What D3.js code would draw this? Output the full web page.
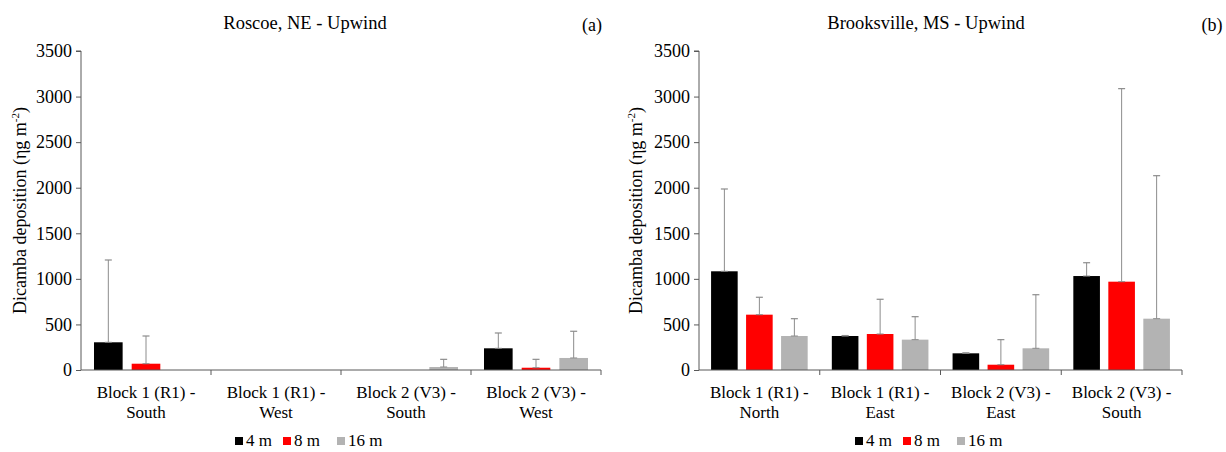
<!DOCTYPE html>
<html>
<head>
<meta charset="utf-8">
<script src="https://cdn.jsdelivr.net/npm/d3@7"></script>
</head>
<body style="margin:0;padding:0;background:#fff">
<svg id="chart" width="1226" height="452" style="display:block"></svg>
<script>
// Sampling heights and series
const seriesNames = ["4 m", "8 m", "16 m"];
const seriesColors = ["#000000", "#ff0000", "#b3b3b3"];
const yTicks = [0, 500, 1000, 1500, 2000, 2500, 3000, 3500];

// (a) Roscoe, NE - Upwind
const roscoeCategories = [
  ["Block 1 (R1) -", "South"],
  ["Block 1 (R1) -", "West"],
  ["Block 2 (V3) -", "South"],
  ["Block 2 (V3) -", "West"]
];
const roscoe4m = [304, 0, 0, 238];
const roscoe8m = [69, 0, 0, 25];
const roscoe16m = [0, 0, 33, 132];
const roscoe4mSD = [903, 0, 0, 168];
const roscoe8mSD = [304, 0, 0, 92];
const roscoe16mSD = [0, 0, 84, 293];

// (b) Brooksville, MS - Upwind
const brooksvilleCategories = [
  ["Block 1 (R1) -", "North"],
  ["Block 1 (R1) -", "East"],
  ["Block 2 (V3) -", "East"],
  ["Block 2 (V3) -", "South"]
];
const brooksville4m = [1083, 373, 183, 1031];
const brooksville8m = [607, 395, 58, 969];
const brooksville16m = [373, 333, 238, 563];
const brooksville4mSD = [903, 5, 5, 146];
const brooksville8mSD = [191, 381, 275, 2118];
const brooksville16mSD = [190, 252, 588, 1569];

const FONT = '"Liberation Serif", "Times New Roman", monospace';
const svg = d3.select("#chart");
const axisColor = "#595959";
const errColor = "#8c8c8c";

function label(sel, size) {
  return sel.style("font-family", FONT, "important")
    .style("font-size", size + "px", "important")
    .attr("fill", "#000");
}

function drawPanel(cfg) {
  const g = svg.append("g");
  const { x0, x1, yTop, yBottom } = cfg;

  const y = d3.scaleLinear().domain([0, 3500]).range([yBottom, yTop]);
  const catKeys = cfg.categories.map((d, i) => i);
  const x = d3.scaleBand().domain(catKeys).range([x0, x1]).padding(0);
  const bw = x.bandwidth();
  const xs = d3.scaleBand().domain(d3.range(seriesNames.length))
    .range([bw * 0.1, bw * 0.9]).paddingInner(0.24).paddingOuter(0);

  const rows = [];
  cfg.values.forEach((vals, s) => {
    vals.forEach((v, i) => rows.push({ cat: i, s, v, sd: cfg.sds[s][i] }));
  });

  // bars
  g.selectAll("rect.bar").data(rows.filter(d => d.v > 0)).join("rect")
    .attr("class", "bar")
    .attr("x", d => x(d.cat) + xs(d.s))
    .attr("width", xs.bandwidth())
    .attr("y", d => y(d.v))
    .attr("height", d => y(0) - y(d.v))
    .attr("fill", d => seriesColors[d.s]);

  // upper error bars
  const eb = rows.filter(d => d.v > 0 && d.sd > 0);
  const cx = d => x(d.cat) + xs(d.s) + xs.bandwidth() / 2;
  g.selectAll("line.err").data(eb).join("line")
    .attr("x1", cx).attr("x2", cx)
    .attr("y1", d => y(d.v)).attr("y2", d => y(d.v + d.sd))
    .attr("stroke", errColor).attr("stroke-width", 1);
  g.selectAll("line.cap").data(eb).join("line")
    .attr("x1", d => cx(d) - 3.5).attr("x2", d => cx(d) + 3.5)
    .attr("y1", d => y(d.v + d.sd)).attr("y2", d => y(d.v + d.sd))
    .attr("stroke", errColor).attr("stroke-width", 1.2);
  g.selectAll("line.base").data(eb).join("line")
    .attr("x1", d => cx(d) - 3.5).attr("x2", d => cx(d) + 3.5)
    .attr("y1", d => y(d.v)).attr("y2", d => y(d.v))
    .attr("stroke", errColor).attr("stroke-width", 1);

  // y axis
  const yAxis = d3.axisLeft(y).tickValues(yTicks).tickSize(5).tickPadding(4).tickFormat(d3.format("d"));
  const ya = g.append("g").attr("transform", `translate(${x0},0)`).call(yAxis);
  ya.attr("font-family", null).attr("font-size", null);
  ya.select(".domain").attr("stroke", axisColor).attr("d", `M-5,${yTop}H0V${yBottom}`);
  ya.selectAll(".tick line").attr("stroke", axisColor);
  label(ya.selectAll(".tick text"), 18);

  // x axis with ticks on category boundaries
  const xl = g.append("g");
  xl.append("line").attr("x1", x0).attr("x2", x1).attr("y1", yBottom).attr("y2", yBottom)
    .attr("stroke", axisColor);
  const bounds = catKeys.map(k => x(k) + bw);
  xl.selectAll("line.xt").data(bounds).join("line")
    .attr("x1", d => d).attr("x2", d => d)
    .attr("y1", yBottom).attr("y2", yBottom + 5)
    .attr("stroke", axisColor);

  // category labels, one text per line
  cfg.categories.forEach((lines, i) => {
    lines.forEach((line, j) => {
      label(svg.append("text"), 17)
        .attr("x", x(i) + bw / 2).attr("y", 398 + j * 20)
        .attr("text-anchor", "middle")
        .text(line);
    });
  });

  // y axis title
  const yt = label(svg.append("text"), 18)
    .attr("transform", `translate(${cfg.yTitleX},${(yTop + yBottom) / 2}) rotate(-90)`)
    .attr("text-anchor", "middle");
  yt.append("tspan").text("Dicamba deposition (ηg m");
  yt.append("tspan").style("font-size", "11px", "important").attr("dy", -7).text("-2");
  yt.append("tspan").attr("dy", 7).text(")");

  // panel title and letter
  label(svg.append("text"), 18.5).attr("x", cfg.titleX).attr("y", 29).attr("text-anchor", "middle")
    .text(cfg.title);
  label(svg.append("text"), 18).attr("x", cfg.letterX).attr("y", 31).attr("text-anchor", "middle")
    .text(cfg.letter);

  // legend
  const legendX = [cfg.legendX, cfg.legendX + 48, cfg.legendX + 102];
  seriesNames.forEach((name, s) => {
    svg.append("rect").attr("x", legendX[s]).attr("y", 437).attr("width", 8).attr("height", 8)
      .attr("fill", seriesColors[s]);
    label(svg.append("text"), 17).attr("x", legendX[s] + 11).attr("y", 446).text(name);
  });
}

drawPanel({
  x0: 81, x1: 601, yTop: 51, yBottom: 370,
  categories: roscoeCategories,
  values: [roscoe4m, roscoe8m, roscoe16m],
  sds: [roscoe4mSD, roscoe8mSD, roscoe16mSD],
  yTitleX: 26, title: "Roscoe, NE - Upwind", titleX: 305,
  letter: "(a)", letterX: 592, legendX: 235
});

drawPanel({
  x0: 699, x1: 1182, yTop: 51, yBottom: 370,
  categories: brooksvilleCategories,
  values: [brooksville4m, brooksville8m, brooksville16m],
  sds: [brooksville4mSD, brooksville8mSD, brooksville16mSD],
  yTitleX: 642, title: "Brooksville, MS - Upwind", titleX: 926,
  letter: "(b)", letterX: 1212, legendX: 855
});
</script>
</body>
</html>
